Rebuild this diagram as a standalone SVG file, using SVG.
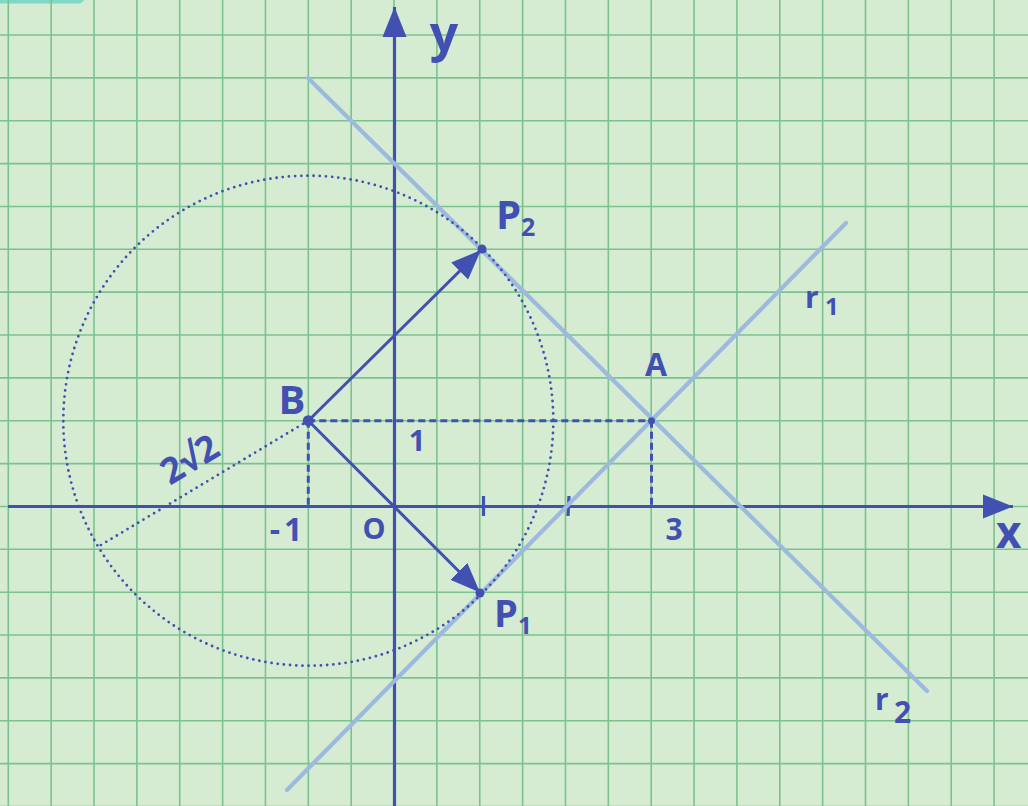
<svg xmlns="http://www.w3.org/2000/svg" width="1028" height="806" viewBox="0 0 1028 806">
<defs>
<style>
.grid{stroke:#7cc28f;stroke-width:1.6;fill:none}
.axis{stroke:#4250b2;stroke-width:3.2;fill:none}
.light{stroke:#9db9de;stroke-width:4.2;fill:none;stroke-linecap:round}
.vec{stroke:#4250b2;stroke-width:3;fill:none}
.dash{stroke:#4250b2;stroke-width:3;fill:none;stroke-dasharray:7 4}
.dot{stroke:#4250b2;stroke-width:2.8;fill:none;stroke-linecap:round;stroke-dasharray:0 6.2}
.pt{fill:#4250b2}
.lbl{fill:#4250b2;font-family:"Open Sans","DejaVu Sans",sans-serif;font-weight:700}
</style>
<marker id="ah" markerUnits="userSpaceOnUse" markerWidth="32" markerHeight="26" viewBox="0 0 32 26" refX="30" refY="13" orient="auto">
<path d="M0,1 L30,13 L0,25 Z" fill="#4250b2"/>
</marker>
</defs>
<rect width="1028" height="806" fill="#d5ebd2"/>
<rect x="-10" y="-10" width="94" height="13.5" rx="5" fill="#7fd8c6"/>
<path class="grid" d="M8.3,0V806 M51.16,0V806 M94.02,0V806 M136.88,0V806 M179.74,0V806 M222.6,0V806 M265.46,0V806 M308.32,0V806 M351.18,0V806 M394.04,0V806 M436.9,0V806 M479.76,0V806 M522.62,0V806 M565.48,0V806 M608.34,0V806 M651.2,0V806 M694.06,0V806 M736.92,0V806 M779.78,0V806 M822.64,0V806 M865.5,0V806 M908.36,0V806 M951.22,0V806 M994.08,0V806 M0,35H1028 M0,77.86H1028 M0,120.72H1028 M0,163.58H1028 M0,206.44H1028 M0,249.3H1028 M0,292.16H1028 M0,335.02H1028 M0,377.88H1028 M0,420.74H1028 M0,463.6H1028 M0,506.46H1028 M0,549.32H1028 M0,592.18H1028 M0,635.04H1028 M0,677.9H1028 M0,720.76H1028 M0,763.62H1028 M0,806.48H1028"/>
<g id="connectors">
<line class="axis" x1="8" y1="506.5" x2="1013" y2="506.5" marker-end="url(#ah)"/>
<line class="axis" x1="394.5" y1="806" x2="394.5" y2="7" marker-end="url(#ah)"/>
<line class="axis" x1="483.5" y1="496" x2="483.5" y2="516"/>
<line class="axis" x1="569" y1="496" x2="568" y2="516"/>
<line id="r2" class="light" x1="308" y1="78" x2="927" y2="691"/>
<line id="r1" class="light" x1="287" y1="790" x2="846" y2="223"/>
<circle class="dot" cx="308.3" cy="420.7" r="245"/>
<line class="dot" x1="308.3" y1="420.7" x2="96" y2="548"/>
<line class="dash" x1="308.3" y1="420.7" x2="651.2" y2="420.7"/>
<line class="dash" x1="308.3" y1="420.7" x2="308.3" y2="506"/>
<line class="dash" x1="651.5" y1="420.7" x2="651.5" y2="506"/>
<line class="vec" x1="308.3" y1="420.7" x2="481" y2="250" marker-end="url(#ah)"/>
<line class="vec" x1="308.3" y1="420.7" x2="480" y2="592.5" marker-end="url(#ah)"/>
</g>
<g id="axis-y"><text class="lbl" x="444" y="51" font-size="50" text-anchor="middle">y</text></g>
<g id="axis-x"><text class="lbl" x="996" y="548" font-size="44">x</text></g>
<g id="P2"><circle class="pt" cx="482" cy="249" r="4.5"/><text class="lbl" x="496" y="229" font-size="40">P</text><text class="lbl" x="521" y="236" font-size="25">2</text></g>
<g id="P1"><circle class="pt" cx="480" cy="593" r="4.5"/><text class="lbl" x="494" y="627" font-size="38">P</text><text class="lbl" x="518" y="634" font-size="24">1</text></g>
<g id="A"><circle class="pt" cx="651.5" cy="420.7" r="3.5"/><text class="lbl" x="656" y="376" font-size="32" text-anchor="middle">A</text></g>
<g id="B"><circle class="pt" cx="308.3" cy="420.7" r="5.5"/><text class="lbl" x="292" y="414" font-size="40" text-anchor="middle">B</text></g>
<g id="r1-label"><text class="lbl" x="805" y="308" font-size="30">r</text><text class="lbl" x="825" y="315" font-size="24">1</text></g>
<g id="r2-label"><text class="lbl" x="875" y="710" font-size="30">r</text><text class="lbl" x="894" y="723" font-size="30">2</text></g>
<g id="labels">
<text class="lbl" x="417" y="451" font-size="29" text-anchor="middle">1</text>
<text class="lbl" x="288" y="541" font-size="32" text-anchor="middle" letter-spacing="4">-1</text>
<text class="lbl" x="374" y="539" font-size="29" text-anchor="middle">O</text>
<text class="lbl" x="674" y="540" font-size="30" text-anchor="middle">3</text>
<text class="lbl" font-size="36" text-anchor="middle" transform="translate(196,470) rotate(-31)">2√2</text>
</g>
</svg>
